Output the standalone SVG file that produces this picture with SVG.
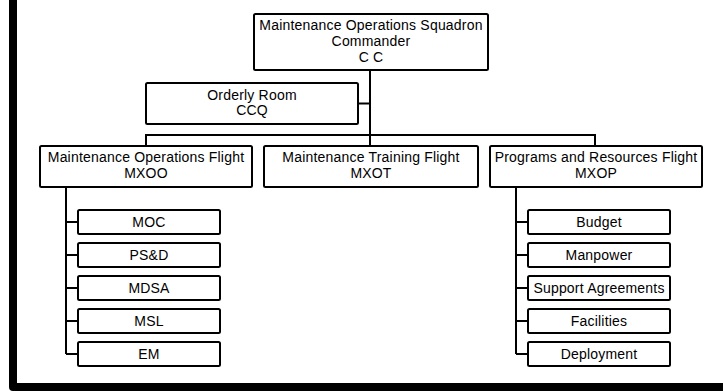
<svg xmlns="http://www.w3.org/2000/svg" width="723" height="391" viewBox="0 0 723 391">
<style>
.box{fill:#fff;stroke:#000;stroke-width:2}
.ln{fill:none;stroke:#000;stroke-width:2}
text{font-family:"Liberation Sans",Arial,sans-serif;font-size:14px;fill:#000;text-anchor:middle;letter-spacing:0.2px}
</style>
<rect width="723" height="391" fill="#fff"/>
<path d="M13,-10 V387 H733" fill="none" stroke="#000" stroke-width="8" stroke-linejoin="round"/>
<g id="connectors" class="ln">
<path d="M370,70 V146"/>
<path d="M358,103.5 H370"/>
<path d="M146,146 V135 H595 V146"/>
<path d="M66,187 V354"/>
<path d="M66,222 H78 M66,255 H78 M66,288 H78 M66,321 H78 M66,354 H78"/>
<path d="M516,187 V354"/>
<path d="M516,222 H528 M516,255 H528 M516,288 H528 M516,321 H528 M516,354 H528"/>
</g>
<g id="cc"><rect class="box" x="254" y="14" width="234" height="56" rx="1.5"/>
<text x="371" y="30">Maintenance Operations Squadron</text><text x="371" y="46">Commander</text><text x="371" y="61.5">C C</text></g>
<g id="ccq"><rect class="box" x="146" y="83" width="212" height="41" rx="1.5"/>
<text x="252" y="100">Orderly Room</text><text x="252" y="115">CCQ</text></g>
<g id="mxoo"><rect class="box" x="40" y="146" width="212" height="41" rx="1.5"/>
<text x="146" y="162">Maintenance Operations Flight</text><text x="146" y="177.5">MXOO</text></g>
<g id="mxot"><rect class="box" x="264" y="146" width="214" height="41" rx="1.5"/>
<text x="371" y="162">Maintenance Training Flight</text><text x="371" y="177.5">MXOT</text></g>
<g id="mxop"><rect class="box" x="490" y="146" width="212" height="41" rx="1.5"/>
<text x="596" y="162">Programs and Resources Flight</text><text x="596" y="177.5">MXOP</text></g>
<g id="moc"><rect class="box" x="78" y="210" width="142" height="24" rx="1.5"/><text x="149" y="227">MOC</text></g>
<g id="psd"><rect class="box" x="78" y="243" width="142" height="24" rx="1.5"/><text x="149" y="260">PS&amp;D</text></g>
<g id="mdsa"><rect class="box" x="78" y="276" width="142" height="24" rx="1.5"/><text x="149" y="293">MDSA</text></g>
<g id="msl"><rect class="box" x="78" y="309" width="142" height="24" rx="1.5"/><text x="149" y="326">MSL</text></g>
<g id="em"><rect class="box" x="78" y="342" width="142" height="24" rx="1.5"/><text x="149" y="359">EM</text></g>
<g id="budget"><rect class="box" x="528" y="210" width="142" height="24" rx="1.5"/><text x="599" y="227">Budget</text></g>
<g id="manpower"><rect class="box" x="528" y="243" width="142" height="24" rx="1.5"/><text x="599" y="260">Manpower</text></g>
<g id="support"><rect class="box" x="528" y="276" width="142" height="24" rx="1.5"/><text x="599" y="293">Support Agreements</text></g>
<g id="facilities"><rect class="box" x="528" y="309" width="142" height="24" rx="1.5"/><text x="599" y="326">Facilities</text></g>
<g id="deployment"><rect class="box" x="528" y="342" width="142" height="24" rx="1.5"/><text x="599" y="359">Deployment</text></g>
</svg>
